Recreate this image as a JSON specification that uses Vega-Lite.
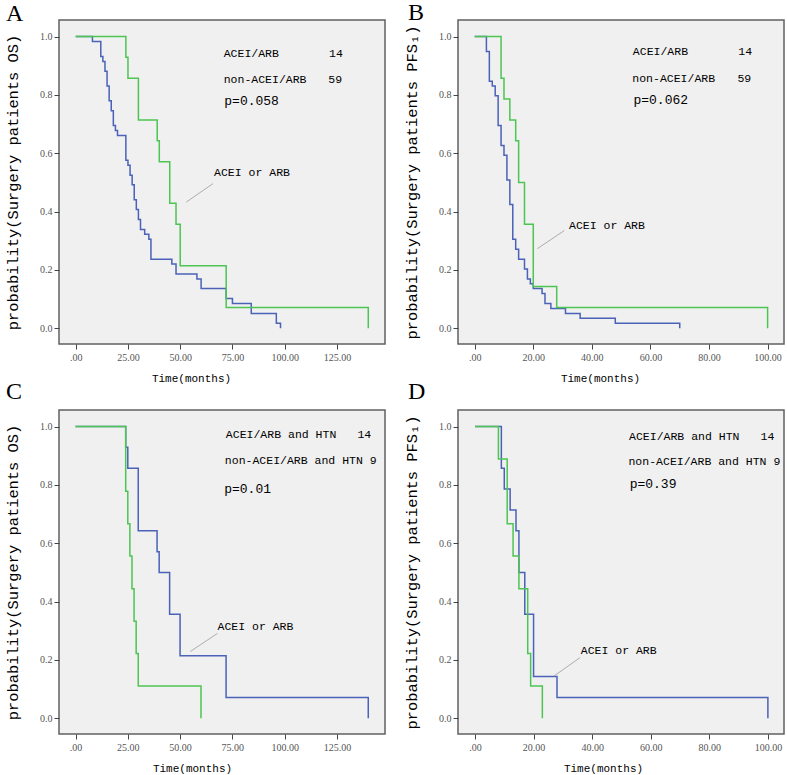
{
  "$schema": "https://vega.github.io/schema/vega-lite/v6.json",
  "background": "white",
  "padding": {"left": 4, "top": 0, "right": 2, "bottom": 2},
  "bounds": "flush",
  "columns": 2,
  "spacing": {"row": 66, "column": 73},
  "resolve": {"scale": {"color": "independent"}},
  "config": {
    "view": {"fill": "#f0f0f0", "stroke": "#606060", "strokeWidth": 1.5},
    "title": {"anchor": "start", "frame": "group", "font": "Liberation Serif", "fontSize": 24, "fontWeight": "normal", "baseline": "alphabetic", "offset": 0, "color": "#000"},
    "axis": {"labelFont": "Liberation Serif", "labelFontSize": 10, "labelColor": "#555", "tickColor": "#444", "tickSize": 5, "domain": false, "grid": false, "titleFont": "Liberation Mono", "titleFontWeight": "normal", "titleColor": "#000"},
    "axisX": {"labelExpr": "datum.value == 0 ? '.00' : format(datum.value, '.2f')", "titleFontSize": 11, "titlePadding": 10, "labelPadding": 3},
    "axisY": {"format": ".1f", "titleFontSize": 15.4, "titlePadding": 19, "labelPadding": 2},
    "text": {"font": "Liberation Mono", "color": "#000"}
  },
  "concat": [
    {
      "width": 326, "height": 324,
      "title": {"text": "A", "dx": -53, "dy": 10},
      "encoding": {
        "x": {"field": "t", "type": "quantitative", "scale": {"domain": [-8, 148], "nice": false, "zero": false}, "axis": {"values": [0, 25, 50, 75, 100, 125], "title": "Time(months)", "titleX": 132}},
        "y": {"field": "s", "type": "quantitative", "scale": {"domain": [-0.054, 1.057], "nice": false, "zero": false}, "axis": {"values": [0, 0.2, 0.4, 0.6, 0.8, 1], "title": "probability(Surgery patients OS)"}}
      },
      "layer": [
        {
          "data": {"values": [
            {"group": "non-ACEI/ARB", "t": 0, "s": 1}, {"group": "non-ACEI/ARB", "t": 8, "s": 0.983}, {"group": "non-ACEI/ARB", "t": 12, "s": 0.932}, {"group": "non-ACEI/ARB", "t": 13, "s": 0.915}, {"group": "non-ACEI/ARB", "t": 14, "s": 0.881}, {"group": "non-ACEI/ARB", "t": 15, "s": 0.831}, {"group": "non-ACEI/ARB", "t": 16, "s": 0.78}, {"group": "non-ACEI/ARB", "t": 17, "s": 0.746}, {"group": "non-ACEI/ARB", "t": 18, "s": 0.695}, {"group": "non-ACEI/ARB", "t": 19, "s": 0.678}, {"group": "non-ACEI/ARB", "t": 20, "s": 0.661}, {"group": "non-ACEI/ARB", "t": 24, "s": 0.576}, {"group": "non-ACEI/ARB", "t": 25, "s": 0.559}, {"group": "non-ACEI/ARB", "t": 26, "s": 0.525}, {"group": "non-ACEI/ARB", "t": 27, "s": 0.492}, {"group": "non-ACEI/ARB", "t": 28, "s": 0.441}, {"group": "non-ACEI/ARB", "t": 29, "s": 0.407}, {"group": "non-ACEI/ARB", "t": 30, "s": 0.373}, {"group": "non-ACEI/ARB", "t": 31, "s": 0.339}, {"group": "non-ACEI/ARB", "t": 33, "s": 0.322}, {"group": "non-ACEI/ARB", "t": 35, "s": 0.305}, {"group": "non-ACEI/ARB", "t": 36, "s": 0.237}, {"group": "non-ACEI/ARB", "t": 46, "s": 0.22}, {"group": "non-ACEI/ARB", "t": 48, "s": 0.186}, {"group": "non-ACEI/ARB", "t": 58, "s": 0.169}, {"group": "non-ACEI/ARB", "t": 60, "s": 0.136}, {"group": "non-ACEI/ARB", "t": 72, "s": 0.102}, {"group": "non-ACEI/ARB", "t": 75, "s": 0.085}, {"group": "non-ACEI/ARB", "t": 84, "s": 0.051}, {"group": "non-ACEI/ARB", "t": 96, "s": 0.017}, {"group": "non-ACEI/ARB", "t": 98, "s": 0},
            {"group": "ACEI/ARB", "t": 0, "s": 1}, {"group": "ACEI/ARB", "t": 24, "s": 0.929}, {"group": "ACEI/ARB", "t": 25, "s": 0.857}, {"group": "ACEI/ARB", "t": 30, "s": 0.714}, {"group": "ACEI/ARB", "t": 39, "s": 0.643}, {"group": "ACEI/ARB", "t": 40, "s": 0.571}, {"group": "ACEI/ARB", "t": 45, "s": 0.429}, {"group": "ACEI/ARB", "t": 48, "s": 0.357}, {"group": "ACEI/ARB", "t": 50, "s": 0.214}, {"group": "ACEI/ARB", "t": 72, "s": 0.071}, {"group": "ACEI/ARB", "t": 140, "s": 0}
          ]},
          "mark": {"type": "line", "interpolate": "step-after", "strokeWidth": 1.5},
          "encoding": {"color": {"field": "group", "type": "nominal", "scale": {"domain": ["non-ACEI/ARB", "ACEI/ARB"], "range": ["#4a62b8", "#4cc552"]}, "legend": null}}
        },
        {
          "data": {"values": [{"t": 52.9, "s": 0.4325, "t2": 65.7, "s2": 0.496}]},
          "mark": {"type": "rule", "color": "#9a9a9a", "strokeWidth": 0.8},
          "encoding": {"x2": {"field": "t2"}, "y2": {"field": "s2"}}
        },
        {
          "data": {"values": [{"label": "ACEI/ARB", "t": 70.8, "s": 0.942}, {"label": "14", "t": 121.2, "s": 0.942}, {"label": "non-ACEI/ARB", "t": 70.8, "s": 0.851}, {"label": "59", "t": 120.9, "s": 0.851}, {"label": "ACEI or ARB", "t": 66.2, "s": 0.532}]},
          "mark": {"type": "text", "align": "left", "baseline": "middle", "fontSize": 11.5},
          "encoding": {"text": {"field": "label"}}
        },
        {
          "data": {"values": [{"label": "p=0.058", "t": 71.1, "s": 0.779}]},
          "mark": {"type": "text", "align": "left", "baseline": "middle", "fontSize": 13},
          "encoding": {"text": {"field": "label"}}
        }
      ]
    },
    {
      "width": 326, "height": 324,
      "title": {"text": "B", "dx": -50, "dy": 9},
      "encoding": {
        "x": {"field": "t", "type": "quantitative", "scale": {"domain": [-5.7, 105.6], "nice": false, "zero": false}, "axis": {"values": [0, 20, 40, 60, 80, 100], "title": "Time(months)", "titleX": 142}},
        "y": {"field": "s", "type": "quantitative", "scale": {"domain": [-0.054, 1.057], "nice": false, "zero": false}, "axis": {"values": [0, 0.2, 0.4, 0.6, 0.8, 1], "title": "probability(Surgery patients PFS₁)"}}
      },
      "layer": [
        {
          "data": {"values": [
            {"group": "non-ACEI/ARB", "t": 0, "s": 1}, {"group": "non-ACEI/ARB", "t": 4, "s": 0.949}, {"group": "non-ACEI/ARB", "t": 5, "s": 0.847}, {"group": "non-ACEI/ARB", "t": 6, "s": 0.831}, {"group": "non-ACEI/ARB", "t": 7, "s": 0.797}, {"group": "non-ACEI/ARB", "t": 8, "s": 0.695}, {"group": "non-ACEI/ARB", "t": 9, "s": 0.627}, {"group": "non-ACEI/ARB", "t": 10, "s": 0.593}, {"group": "non-ACEI/ARB", "t": 11, "s": 0.508}, {"group": "non-ACEI/ARB", "t": 12, "s": 0.424}, {"group": "non-ACEI/ARB", "t": 13, "s": 0.305}, {"group": "non-ACEI/ARB", "t": 14, "s": 0.271}, {"group": "non-ACEI/ARB", "t": 15, "s": 0.237}, {"group": "non-ACEI/ARB", "t": 17, "s": 0.203}, {"group": "non-ACEI/ARB", "t": 18, "s": 0.169}, {"group": "non-ACEI/ARB", "t": 19, "s": 0.153}, {"group": "non-ACEI/ARB", "t": 20, "s": 0.136}, {"group": "non-ACEI/ARB", "t": 23, "s": 0.119}, {"group": "non-ACEI/ARB", "t": 24, "s": 0.085}, {"group": "non-ACEI/ARB", "t": 26, "s": 0.068}, {"group": "non-ACEI/ARB", "t": 31, "s": 0.051}, {"group": "non-ACEI/ARB", "t": 36, "s": 0.034}, {"group": "non-ACEI/ARB", "t": 48, "s": 0.017}, {"group": "non-ACEI/ARB", "t": 70, "s": 0},
            {"group": "ACEI/ARB", "t": 0, "s": 1}, {"group": "ACEI/ARB", "t": 9, "s": 0.857}, {"group": "ACEI/ARB", "t": 10, "s": 0.786}, {"group": "ACEI/ARB", "t": 12, "s": 0.714}, {"group": "ACEI/ARB", "t": 14, "s": 0.643}, {"group": "ACEI/ARB", "t": 15, "s": 0.5}, {"group": "ACEI/ARB", "t": 17, "s": 0.357}, {"group": "ACEI/ARB", "t": 20, "s": 0.143}, {"group": "ACEI/ARB", "t": 28, "s": 0.071}, {"group": "ACEI/ARB", "t": 100, "s": 0}
          ]},
          "mark": {"type": "line", "interpolate": "step-after", "strokeWidth": 1.5},
          "encoding": {"color": {"field": "group", "type": "nominal", "scale": {"domain": ["non-ACEI/ARB", "ACEI/ARB"], "range": ["#4a62b8", "#4cc552"]}, "legend": null}}
        },
        {
          "data": {"values": [{"t": 21.4, "s": 0.273, "t2": 30.6, "s2": 0.335}]},
          "mark": {"type": "rule", "color": "#9a9a9a", "strokeWidth": 0.8},
          "encoding": {"x2": {"field": "t2"}, "y2": {"field": "s2"}}
        },
        {
          "data": {"values": [{"label": "ACEI/ARB", "t": 54, "s": 0.946}, {"label": "14", "t": 90, "s": 0.946}, {"label": "non-ACEI/ARB", "t": 53.8, "s": 0.856}, {"label": "59", "t": 89.7, "s": 0.856}, {"label": "ACEI or ARB", "t": 32.2, "s": 0.351}]},
          "mark": {"type": "text", "align": "left", "baseline": "middle", "fontSize": 11.5},
          "encoding": {"text": {"field": "label"}}
        },
        {
          "data": {"values": [{"label": "p=0.062", "t": 54.2, "s": 0.784}]},
          "mark": {"type": "text", "align": "left", "baseline": "middle", "fontSize": 13},
          "encoding": {"text": {"field": "label"}}
        }
      ]
    },
    {
      "width": 326, "height": 324,
      "title": {"text": "C", "dx": -53, "dy": -2},
      "encoding": {
        "x": {"field": "t", "type": "quantitative", "scale": {"domain": [-7.9, 148], "nice": false, "zero": false}, "axis": {"values": [0, 25, 50, 75, 100, 125], "title": "Time(months)", "titleX": 133}},
        "y": {"field": "s", "type": "quantitative", "scale": {"domain": [-0.054, 1.057], "nice": false, "zero": false}, "axis": {"values": [0, 0.2, 0.4, 0.6, 0.8, 1], "title": "probability(Surgery patients OS)"}}
      },
      "layer": [
        {
          "data": {"values": [
            {"group": "ACEI/ARB and HTN", "t": 0, "s": 1}, {"group": "ACEI/ARB and HTN", "t": 24, "s": 0.929}, {"group": "ACEI/ARB and HTN", "t": 25, "s": 0.857}, {"group": "ACEI/ARB and HTN", "t": 30, "s": 0.643}, {"group": "ACEI/ARB and HTN", "t": 39, "s": 0.571}, {"group": "ACEI/ARB and HTN", "t": 40, "s": 0.5}, {"group": "ACEI/ARB and HTN", "t": 45, "s": 0.357}, {"group": "ACEI/ARB and HTN", "t": 50, "s": 0.214}, {"group": "ACEI/ARB and HTN", "t": 72, "s": 0.071}, {"group": "ACEI/ARB and HTN", "t": 140, "s": 0},
            {"group": "non-ACEI/ARB and HTN", "t": 0, "s": 1}, {"group": "non-ACEI/ARB and HTN", "t": 24, "s": 0.778}, {"group": "non-ACEI/ARB and HTN", "t": 25, "s": 0.667}, {"group": "non-ACEI/ARB and HTN", "t": 26, "s": 0.556}, {"group": "non-ACEI/ARB and HTN", "t": 27, "s": 0.444}, {"group": "non-ACEI/ARB and HTN", "t": 28, "s": 0.333}, {"group": "non-ACEI/ARB and HTN", "t": 29, "s": 0.222}, {"group": "non-ACEI/ARB and HTN", "t": 30, "s": 0.111}, {"group": "non-ACEI/ARB and HTN", "t": 60, "s": 0}
          ]},
          "mark": {"type": "line", "interpolate": "step-after", "strokeWidth": 1.5},
          "encoding": {"color": {"field": "group", "type": "nominal", "scale": {"domain": ["ACEI/ARB and HTN", "non-ACEI/ARB and HTN"], "range": ["#4a62b8", "#4cc552"]}, "legend": null}}
        },
        {
          "data": {"values": [{"t": 54.9, "s": 0.229, "t2": 67.9, "s2": 0.291}]},
          "mark": {"type": "rule", "color": "#9a9a9a", "strokeWidth": 0.8},
          "encoding": {"x2": {"field": "t2"}, "y2": {"field": "s2"}}
        },
        {
          "data": {"values": [{"label": "ACEI/ARB and HTN", "t": 71.9, "s": 0.97}, {"label": "14", "t": 134.8, "s": 0.97}, {"label": "non-ACEI/ARB and HTN 9", "t": 71.4, "s": 0.881}, {"label": "ACEI or ARB", "t": 67.9, "s": 0.314}]},
          "mark": {"type": "text", "align": "left", "baseline": "middle", "fontSize": 11.5},
          "encoding": {"text": {"field": "label"}}
        },
        {
          "data": {"values": [{"label": "p=0.01", "t": 71.1, "s": 0.786}]},
          "mark": {"type": "text", "align": "left", "baseline": "middle", "fontSize": 13},
          "encoding": {"text": {"field": "label"}}
        }
      ]
    },
    {
      "width": 326, "height": 324,
      "title": {"text": "D", "dx": -50, "dy": -2},
      "encoding": {
        "x": {"field": "t", "type": "quantitative", "scale": {"domain": [-5.8, 105.5], "nice": false, "zero": false}, "axis": {"values": [0, 20, 40, 60, 80, 100], "title": "Time(months)", "titleX": 145}},
        "y": {"field": "s", "type": "quantitative", "scale": {"domain": [-0.054, 1.057], "nice": false, "zero": false}, "axis": {"values": [0, 0.2, 0.4, 0.6, 0.8, 1], "title": "probability(Surgery patients PFS₁)"}}
      },
      "layer": [
        {
          "data": {"values": [
            {"group": "ACEI/ARB and HTN", "t": 0, "s": 1}, {"group": "ACEI/ARB and HTN", "t": 9, "s": 0.857}, {"group": "ACEI/ARB and HTN", "t": 10, "s": 0.786}, {"group": "ACEI/ARB and HTN", "t": 12, "s": 0.714}, {"group": "ACEI/ARB and HTN", "t": 14, "s": 0.643}, {"group": "ACEI/ARB and HTN", "t": 15, "s": 0.5}, {"group": "ACEI/ARB and HTN", "t": 17, "s": 0.357}, {"group": "ACEI/ARB and HTN", "t": 20, "s": 0.143}, {"group": "ACEI/ARB and HTN", "t": 28, "s": 0.071}, {"group": "ACEI/ARB and HTN", "t": 100, "s": 0},
            {"group": "non-ACEI/ARB and HTN", "t": 0, "s": 1}, {"group": "non-ACEI/ARB and HTN", "t": 8, "s": 0.889}, {"group": "non-ACEI/ARB and HTN", "t": 11, "s": 0.667}, {"group": "non-ACEI/ARB and HTN", "t": 13, "s": 0.556}, {"group": "non-ACEI/ARB and HTN", "t": 15, "s": 0.444}, {"group": "non-ACEI/ARB and HTN", "t": 18, "s": 0.222}, {"group": "non-ACEI/ARB and HTN", "t": 19, "s": 0.111}, {"group": "non-ACEI/ARB and HTN", "t": 23, "s": 0}
          ]},
          "mark": {"type": "line", "interpolate": "step-after", "strokeWidth": 1.5},
          "encoding": {"color": {"field": "group", "type": "nominal", "scale": {"domain": ["ACEI/ARB and HTN", "non-ACEI/ARB and HTN"], "range": ["#4a62b8", "#4cc552"]}, "legend": null}}
        },
        {
          "data": {"values": [{"t": 27.0, "s": 0.145, "t2": 35.9, "s2": 0.208}]},
          "mark": {"type": "rule", "color": "#9a9a9a", "strokeWidth": 0.8},
          "encoding": {"x2": {"field": "t2"}, "y2": {"field": "s2"}}
        },
        {
          "data": {"values": [{"label": "ACEI/ARB and HTN", "t": 52.6, "s": 0.966}, {"label": "14", "t": 97.5, "s": 0.966}, {"label": "non-ACEI/ARB and HTN 9", "t": 52.4, "s": 0.877}, {"label": "ACEI or ARB", "t": 36.1, "s": 0.231}]},
          "mark": {"type": "text", "align": "left", "baseline": "middle", "fontSize": 11.5},
          "encoding": {"text": {"field": "label"}}
        },
        {
          "data": {"values": [{"label": "p=0.39", "t": 52.8, "s": 0.804}]},
          "mark": {"type": "text", "align": "left", "baseline": "middle", "fontSize": 13},
          "encoding": {"text": {"field": "label"}}
        }
      ]
    }
  ]
}
